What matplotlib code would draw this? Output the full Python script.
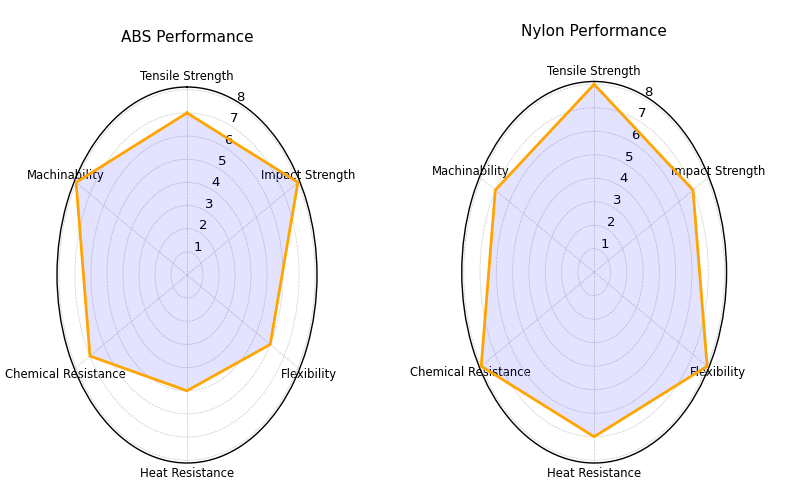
import numpy as np
import matplotlib.pyplot as plt

categories = ['Tensile Strength', 'Impact Strength', 'Flexibility',
              'Heat Resistance', 'Chemical Resistance', 'Machinability']
abs_values = [7, 8, 6, 5, 7, 8]
nylon_values = [8, 7, 8, 7, 8, 7]
r_ticks = [1, 2, 3, 4, 5, 6, 7, 8]

plt.rcParams['font.family'] = 'DejaVu Sans'

fig = plt.figure(figsize=(8, 5), dpi=100)

angles = np.linspace(0, 2 * np.pi, len(categories), endpoint=False).tolist()
angles += angles[:1]


def radar(rect, values, title, title_y):
    ax = fig.add_axes(rect, projection='polar')
    ax.set_aspect('auto')  # ภาพต้นฉบับถูกยืดแนวตั้ง
    ax.set_theta_offset(np.pi / 2)
    ax.set_theta_direction(-1)
    vals = values + values[:1]
    ax.fill(angles, vals, color='blue', alpha=0.11, zorder=2)
    ax.plot(angles, vals, color='orange', linewidth=2, zorder=3)
    ax.set_xticks(angles[:-1])
    ax.set_xticklabels(categories, fontsize=8.4)
    ax.tick_params(axis='x', pad=-3)
    ax.set_yticks(r_ticks)
    ax.set_yticklabels([str(t) for t in r_ticks], fontsize=9.5)
    ax.set_ylim(0, 8.12)
    ax.grid(color='#d4d4d4', linestyle=(0, (3, 1)), linewidth=0.6)
    ax.spines['polar'].set_color('black')
    ax.spines['polar'].set_linewidth(1.0)
    fig.text(rect[0] + rect[2] / 2, title_y, title, ha='center', va='center',
             fontsize=11)
    return ax


radar([0.07125, 0.074, 0.325, 0.752], abs_values, 'ABS Performance', 0.925)
radar([0.5772, 0.074, 0.331, 0.763], nylon_values, 'Nylon Performance', 0.937)

plt.savefig('out.png', dpi=100)
